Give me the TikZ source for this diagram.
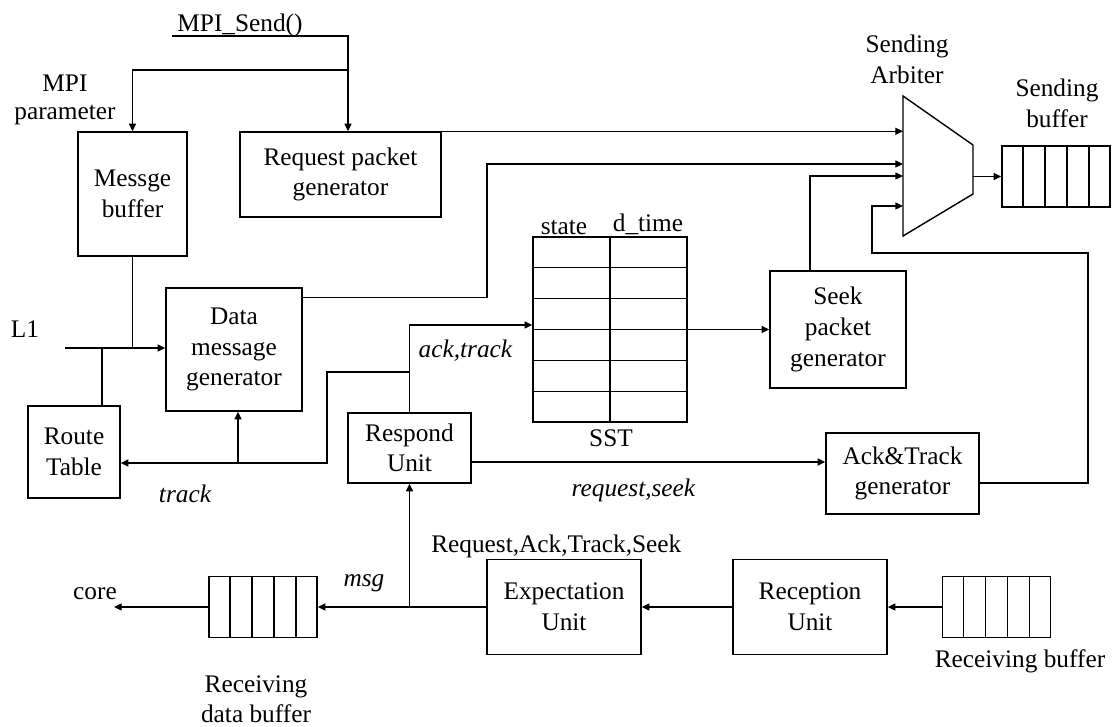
\documentclass[tikz,border=0pt]{standalone}
\usepackage{fontspec}
\setmainfont{Liberation Serif}
\usetikzlibrary{arrows.meta,calc}

\begin{document}
\begin{tikzpicture}[x=0.025cm,y=-0.025cm,line width=1pt,
   font=\fontsize{18}{21.8}\selectfont,
   box/.style={draw,align=center,inner sep=0pt},
   lbl/.style={inner sep=0pt},
   arr/.style={-{Triangle[length=5.5pt,width=5pt]}},
   buf/.style={draw,inner sep=0pt,minimum width=2.7cm,minimum height=1.525cm}]
   \useasboundingbox (0,0) rectangle (1114,727);
   \node[box,minimum width=2.725cm,minimum height=3.1cm] (msgbuf) at (132.5,194) {Messge\\buffer};
   \node[box,minimum width=5.025cm,minimum height=2.125cm] (reqgen) at (340.5,174.5) {Request packet\\generator};
   \node[box,minimum width=3.4cm,minimum height=3.075cm] (datagen) at (234,349.5) {Data\\message\\generator};
   \node[box,minimum width=2.3cm,minimum height=2.3cm] (route) at (74,452) {Route\\Table};
   \node[box,minimum width=3.075cm,minimum height=1.75cm] (respond) at (409.5,448) {Respond\\Unit};
   \node[box,minimum width=3.4cm,minimum height=2.925cm] (seekgen) at (838,329.5) {Seek\\packet\\generator};
   \node[box,minimum width=3.825cm,minimum height=2.025cm] (ackgen) at (902.5,473.5) {Ack\&Track\\generator};
   \node[box,minimum width=3.85cm,minimum height=2.375cm] (expect) at (564,607) {Expectation\\Unit};
   \node[box,minimum width=3.85cm,minimum height=2.375cm] (recept) at (810,607) {Reception\\Unit};
   \node[buf] (sendbuf) at (1056,176.5) {};
   \node[buf] (recvbuf) at (996.5,607) {};
   \node[buf] (databuf) at (263,607) {};
   \foreach \b in {sendbuf,recvbuf,databuf}
      \foreach \k in {1,...,4}
         \draw ($(\b.south west)!\k/5!(\b.south east)$) -- ($(\b.north west)!\k/5!(\b.north east)$);
   \node[draw,inner sep=0pt,minimum width=3.85cm,minimum height=4.625cm] (sst) at (610,329.5) {};
   \foreach \k in {1,...,5}
      \draw ($(sst.north west)!\k/6!(sst.south west)$) -- ($(sst.north east)!\k/6!(sst.south east)$);
   \draw (sst.north) -- (sst.south);
   \coordinate (arbnw) at (903,96);
   \coordinate (arbne) at (973,145);
   \coordinate (arbse) at (973,194);
   \coordinate (arbsw) at (903,236);
   \draw (arbnw) -- (arbne) -- (arbse) -- (arbsw) -- cycle;

   \coordinate (mpi) at (172,36);
   \coordinate (mpij) at (348,70);
   \draw[arr] (mpi) -| (mpij |- reqgen.north);
   \draw[arr] (mpij) -| (msgbuf.north);
   \coordinate (l1) at (65,348);
   \coordinate (rtj) at (102,348);
   \draw (msgbuf.south) -- (msgbuf.south |- l1);
   \draw[arr] (l1) -- (datagen.west |- l1);
   \draw (rtj) -- (rtj |- route.north);

   \coordinate (dgk) at (487,164);
   \coordinate (skk) at (810,176);
   \coordinate (akk) at (1088,253);
   \coordinate (akin) at (872,206);
   \draw[arr] (reqgen.north east) -- (reqgen.north east -| arbnw);
   \draw[arr] ([yshift=-0.25cm]datagen.north east) -| (dgk) -- (dgk -| arbnw);
   \draw[arr] (skk |- seekgen.north) -- (skk) -- (skk -| arbnw);
   \draw[arr] ([yshift=-0.2375cm]ackgen.east) -| (akk) -| (akin) -- (akin -| arbnw);
   \draw[arr] (sendbuf.west -| arbne) -- (sendbuf.west);

   \coordinate (tk1) at (409.5,372);
   \coordinate (tk2) at (327,463);
   \coordinate (tk3) at (238,463);
   \draw[arr] (respond.north) |- ([yshift=0.1125cm]sst.west);
   \draw[arr] (tk1) -| (tk2) -- (tk2 -| route.east);
   \draw[arr] (tk3) -- (tk3 |- datagen.south);
   \draw[arr] (sst.east) -- (seekgen.west);
   \draw[arr] ([yshift=-0.35cm]respond.east) -- ([yshift=-0.35cm]respond.east -| ackgen.west);

   \coordinate (msgj) at (409.5,607);
   \coordinate (core) at (114,607);
   \draw[arr] (recvbuf.west) -- (recept.east);
   \draw[arr] (recept.west) -- (expect.east);
   \draw[arr] (expect.west) -- (databuf.east);
   \draw[arr] (msgj) -- (respond.south);
   \draw[arr] (databuf.west) -- (core);

   \node[lbl,anchor=base] (mpitxt) at (240,31.5) {MPI\_Send()};
   \node[lbl,anchor=base] (mpilbl) at (65,92) {MPI};
   \node[lbl,anchor=base] (parlbl) at (65,120) {parameter};
   \node[lbl,anchor=base] (l1lbl) at (25,338) {L1};
   \node[lbl,anchor=base] (trklbl) at (185,503) {\itshape track};
   \node[lbl,anchor=base west] (acklbl) at (418,358) {\itshape ack,track};
   \node[lbl,anchor=base west] (reqlbl) at (571,497) {\itshape request,seek};
   \node[lbl,anchor=base east] (typlbl) at (682,553) {Request,Ack,Track,Seek};
   \node[lbl,anchor=base] (msglbl) at (364,587) {\itshape msg};
   \node[lbl,anchor=base] (corelbl) at (95,600) {core};
   \node[lbl,anchor=base] (rdblbla) at (256,693) {Receiving};
   \node[lbl,anchor=base] (rdblblb) at (256,723) {data buffer};
   \node[lbl,anchor=base] (rblbl) at (1020,668) {Receiving buffer};
   \node[lbl,anchor=base] (sblbla) at (1057,97) {Sending};
   \node[lbl,anchor=base] (sblblb) at (1057,128) {buffer};
   \node[lbl,anchor=base] (salbla) at (907,53) {Sending};
   \node[lbl,anchor=base] (salblb) at (907,84) {Arbiter};
   \node[lbl,anchor=base] (stlbl) at (564,235) {state};
   \node[lbl,anchor=base] (dtlbl) at (648,232) {d\_time};
   \node[lbl,anchor=base] (sstlbl) at (611,447) {SST};
\end{tikzpicture}
\end{document}
